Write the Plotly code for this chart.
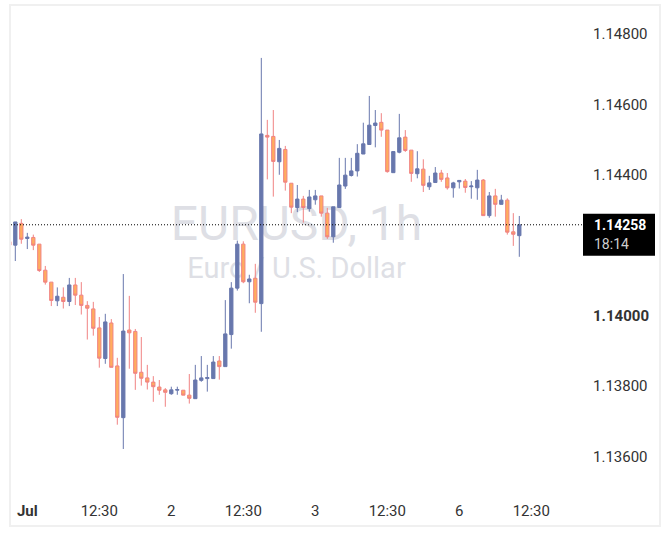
import plotly.graph_objects as go

# ---- data (hourly EUR/USD candles) ----
opens = [1.14210, 1.14200, 1.14262, 1.14219, 1.14222, 1.14203, 1.14129, 1.14095, 1.14042, 1.14052,
         1.14040, 1.14087, 1.14058, 1.14029, 1.14019, 1.13965, 1.13878, 1.13979, 1.13857, 1.13710,
         1.13959, 1.13955, 1.13839, 1.13823, 1.13811, 1.13797, 1.13789, 1.13778, 1.13788, 1.13788,
         1.13774, 1.13764, 1.13816, 1.13821, 1.13821, 1.13871, 1.13855, 1.13946, 1.14078, 1.14203,
         1.14096, 1.14106, 1.14034, 1.14512, 1.14509, 1.14437, 1.14472, 1.14376, 1.14307, 1.14331,
         1.14304, 1.14329, 1.14340, 1.14291, 1.14224, 1.14307, 1.14368, 1.14398, 1.14411, 1.14459,
         1.14486, 1.14540, 1.14549, 1.14527, 1.14406, 1.14464, 1.14507, 1.14470, 1.14403, 1.14416,
         1.14366, 1.14378, 1.14405, 1.14391, 1.14363, 1.14380, 1.14382, 1.14366, 1.14363, 1.14385,
         1.14284, 1.14340, 1.14316, 1.14328, 1.14238, 1.14227]
highs = [1.14215, 1.14266, 1.14274, 1.14235, 1.14230, 1.14203, 1.14141, 1.14095, 1.14080, 1.14080,
         1.14107, 1.14107, 1.14095, 1.14041, 1.14039, 1.13996, 1.14005, 1.13990, 1.13880, 1.14118,
         1.14056, 1.13962, 1.13939, 1.13860, 1.13828, 1.13817, 1.13794, 1.13798, 1.13798, 1.13788,
         1.13834, 1.13860, 1.13885, 1.13860, 1.13885, 1.13885, 1.14044, 1.14095, 1.14213, 1.14211,
         1.14116, 1.14147, 1.14732, 1.14556, 1.14584, 1.14499, 1.14482, 1.14376, 1.14371, 1.14340,
         1.14357, 1.14357, 1.14340, 1.14306, 1.14309, 1.14448, 1.14448, 1.14448, 1.14487, 1.14548,
         1.14624, 1.14584, 1.14575, 1.14527, 1.14466, 1.14573, 1.14527, 1.14470, 1.14467, 1.14444,
         1.14397, 1.14422, 1.14414, 1.14405, 1.14380, 1.14384, 1.14388, 1.14382, 1.14414, 1.14388,
         1.14351, 1.14360, 1.14343, 1.14333, 1.14291, 1.14283]
lows = [1.14195, 1.14155, 1.14204, 1.14189, 1.14186, 1.14124, 1.14088, 1.14027, 1.14027, 1.14020,
        1.14027, 1.14030, 1.14003, 1.13932, 1.13943, 1.13852, 1.13863, 1.13853, 1.13690, 1.13621,
        1.13849, 1.13789, 1.13801, 1.13790, 1.13755, 1.13775, 1.13741, 1.13775, 1.13775, 1.13774,
        1.13750, 1.13764, 1.13812, 1.13784, 1.13821, 1.13818, 1.13855, 1.13906, 1.14071, 1.14092,
        1.14035, 1.14008, 1.13954, 1.14387, 1.14338, 1.14400, 1.14355, 1.14291, 1.14294, 1.14264,
        1.14295, 1.14315, 1.14281, 1.14218, 1.14207, 1.14307, 1.14360, 1.14395, 1.14395, 1.14459,
        1.14486, 1.14478, 1.14508, 1.14406, 1.14406, 1.14461, 1.14465, 1.14380, 1.14390, 1.14351,
        1.14357, 1.14378, 1.14380, 1.14358, 1.14335, 1.14361, 1.14349, 1.14332, 1.14329, 1.14284,
        1.14278, 1.14281, 1.14316, 1.14230, 1.14198, 1.14167]
closes = [1.14200, 1.14266, 1.14217, 1.14223, 1.14200, 1.14128, 1.14095, 1.14043, 1.14055, 1.14040,
          1.14087, 1.14058, 1.14029, 1.14021, 1.13964, 1.13879, 1.13982, 1.13853, 1.13711, 1.13956,
          1.13951, 1.13836, 1.13822, 1.13811, 1.13798, 1.13788, 1.13782, 1.13789, 1.13790, 1.13774,
          1.13765, 1.13817, 1.13823, 1.13824, 1.13868, 1.13855, 1.13948, 1.14078, 1.14203, 1.14096,
          1.14104, 1.14038, 1.14516, 1.14507, 1.14438, 1.14475, 1.14379, 1.14308, 1.14331, 1.14307,
          1.14337, 1.14340, 1.14291, 1.14224, 1.14309, 1.14371, 1.14399, 1.14411, 1.14461, 1.14488,
          1.14541, 1.14547, 1.14527, 1.14409, 1.14466, 1.14505, 1.14469, 1.14404, 1.14417, 1.14370,
          1.14377, 1.14405, 1.14387, 1.14363, 1.14377, 1.14384, 1.14364, 1.14368, 1.14385, 1.14284,
          1.14340, 1.14316, 1.14328, 1.14237, 1.14231, 1.14258]

time_tick_bars = [3, 15, 27, 39, 51, 63, 75, 87]
time_tick_labels = ["<b>Jul</b>", "12:30", "2", "12:30", "3", "12:30", "6", "12:30"]
price_ticks = [1.136, 1.138, 1.140, 1.142, 1.144, 1.146, 1.148]
countdown = "18:14"
title_main = "EURUSD, 1h"
title_sub = "Euro / U.S. Dollar"

bars = list(range(len(closes)))

BLUE = "#6877ad"
ORANGE = "#ffad5e"
PINK = "#f08282"
TXT = "#333333"
FONT = "Roboto"

fig = go.Figure()

# watermark on base axes (drawn beneath the overlaying candle axes)
fig.add_trace(go.Scatter(
    x=[0.5, 0.5], y=[0.541, 0.452], mode="text",
    text=[title_main, title_sub],
    textfont=dict(family=FONT, size=[48, 29], color="#dedfe5"),
    hoverinfo="skip", xaxis="x", yaxis="y", showlegend=False))

fig.add_trace(go.Candlestick(
    x=bars, open=opens, high=highs, low=lows, close=closes,
    xaxis="x2", yaxis="y2",
    increasing=dict(line=dict(color=BLUE, width=1), fillcolor=BLUE),
    decreasing=dict(line=dict(color=PINK, width=1), fillcolor=ORANGE),
    whiskerwidth=0, hoverinfo="skip", showlegend=False))

last = closes[-1]
fig.add_shape(type="line", xref="paper", x0=0, x1=1, yref="y2", y0=last, y1=last,
              line=dict(color="#000000", width=1, dash="1px,2px"), layer="above")

# chart frame
fig.add_shape(type="rect", xref="paper", yref="paper",
              x0=-0.00175, x1=1.1366, y0=-0.0744, y1=1.00207,
              line=dict(color="#f0f0f0", width=2), layer="below")

# last-price label box
fig.add_shape(type="rect", xref="paper", xsizemode="pixel", xanchor=1, x0=1, x1=73,
              yref="y2", ysizemode="pixel", yanchor=last, y0=-31, y1=11,
              fillcolor="#000000", line=dict(width=0), layer="above")
fig.add_annotation(
    xref="paper", x=1, xanchor="left", xshift=10,
    yref="y2", y=last, yanchor="middle", yshift=0, height=15,
    text=f"<b>{last:.5f}</b>", showarrow=False, align="left",
    font=dict(family=FONT, size=14, color="#ffffff"))
fig.add_annotation(
    xref="paper", x=1, xanchor="left", xshift=10,
    yref="y2", y=last, yanchor="middle", yshift=-19, height=15,
    text=countdown, showarrow=False, align="left",
    font=dict(family=FONT, size=14, color="#cfcfcf"))

price_text = [f"<b>{v:.5f}</b>" if abs(v - 1.140) < 1e-9 else f"{v:.5f}" for v in price_ticks]

fig.update_layout(
    width=670, height=545,
    margin=dict(l=11, r=88, t=6, b=55),
    paper_bgcolor="#ffffff", plot_bgcolor="rgba(0,0,0,0)",
    showlegend=False, boxgap=0.22,
    xaxis=dict(range=[0, 1], visible=False, fixedrange=True),
    yaxis=dict(range=[0, 1], visible=False, fixedrange=True),
    xaxis2=dict(overlaying="x", anchor="y2", range=[0.283, 95.45],
                tickmode="array", tickvals=time_tick_bars, ticktext=time_tick_labels,
                showgrid=False, zeroline=False, showline=False, ticks="",
                ticklabelstandoff=10,
                tickfont=dict(family=FONT, size=15, color=TXT),
                rangeslider=dict(visible=False)),
    yaxis2=dict(overlaying="y", anchor="x2", side="right",
                range=[1.135045, 1.148795],
                tickmode="array", tickvals=price_ticks, ticktext=price_text,
                showgrid=False, zeroline=False, showline=False, ticks="",
                ticklabelstandoff=10,
                tickfont=dict(family=FONT, size=15, color=TXT)),
)

fig.write_html("out.html")
